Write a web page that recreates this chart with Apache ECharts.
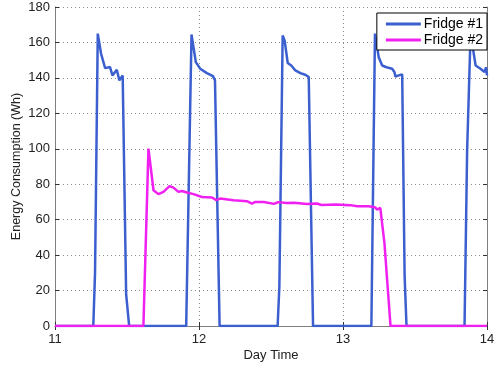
<!DOCTYPE html>
<html>

<head>
    <meta charset="utf-8" />
    <script src="https://cdn.jsdelivr.net/npm/echarts@6/dist/echarts.min.js"></script>
</head>

<body style="margin:0">
    <div id="main" style="width: 498px;height: 375px;"></div>

    <script type="text/javascript">
        // values (day time, Wh)
        var fridge1Time = [11, 11.266, 11.278, 11.297, 11.320, 11.348, 11.382, 11.399, 11.429, 11.447, 11.470, 11.482, 11.494, 11.515,
            11.911, 11.948, 11.978, 12.008, 12.055, 12.097, 12.111, 12.143,
            12.546, 12.558, 12.581, 12.595, 12.616, 12.641, 12.669, 12.704, 12.738, 12.762, 12.792,
            13.197, 13.222, 13.248, 13.272, 13.302, 13.341, 13.357, 13.364, 13.387, 13.411, 13.428, 13.441,
            13.844, 13.862, 13.886, 13.921, 13.955, 13.983, 13.993, 14];
        var fridge1Value = [0, 0, 30, 165, 153.6, 145.5, 146.1, 141.4, 144.6, 138.6, 141.4, 140.8, 18, 0,
            0, 164.5, 148.9, 145.2, 142.7, 141, 138.6, 0,
            0, 22, 163.9, 161, 148.4, 147, 144.2, 142.7, 141.8, 140.5, 0,
            0, 165, 151.7, 147, 146, 145.2, 143.3, 140.8, 141.4, 142, 28, 0,
            0, 99, 165, 147, 145.2, 143.3, 146, 141.4];

        var fridge2Time = [11, 11.614, 11.649, 11.684, 11.718, 11.753, 11.795, 11.823, 11.857, 11.881, 11.916, 11.962, 12.02, 12.09,
            12.12, 12.147, 12.24, 12.333, 12.368, 12.391, 12.45, 12.52, 12.55, 12.61, 12.66, 12.75, 12.82, 12.85,
            12.95, 13.05, 13.10, 13.18, 13.225, 13.235, 13.259, 13.288, 13.33, 14];
        var fridge2Value = [0, 0, 100.1, 76.6, 74.4, 75.7, 78.9, 78.1, 75.7, 76.2, 75.3, 74.4, 72.8, 72.5,
            71, 71.9, 71, 70.4, 69.1, 70, 70, 68.9, 69.9, 69.4, 69.6, 68.9, 69.1, 68.3,
            68.6, 68.2, 67.6, 67.6, 66.9, 65.7, 66.6, 46.6, 0, 0];

        var chartDom = document.getElementById('main');
        var myChart = echarts.init(chartDom);

        function pairs(t, v) {
            var out = [];
            for (var i = 0; i < t.length; i++) out.push([t[i], v[i]]);
            return out;
        }

        var font = 'Liberation Sans, Arial, Helvetica, sans-serif';
        var frame = { show: true, lineStyle: { color: '#7f7f7f', width: 1 } };
        var inTicks = { show: true, inside: true, length: 4, lineStyle: { color: '#333' } };
        var grid = { show: true, lineStyle: { color: '#8a8a8a', type: [1, 3], width: 1 } };

        var option = {
            animation: false,
            backgroundColor: '#fff',
            textStyle: { fontFamily: font },
            grid: { left: 55, right: 11, top: 7, bottom: 49, outerBoundsMode: 'none', containLabel: false },
            legend: {
                right: 11, top: 13,
                orient: 'vertical',
                backgroundColor: '#fff',
                borderColor: '#000', borderWidth: 1,
                padding: [4, 4, 3, 9],
                itemGap: 2,
                itemWidth: 35, itemHeight: 3,
                icon: 'rect',
                textStyle: { fontSize: 14, color: '#000', fontFamily: font, padding: [0, 0, 0, -2] },
                data: ['Fridge #1', 'Fridge #2']
            },
            xAxis: [{
                type: 'value', min: 11, max: 14, interval: 1,
                name: 'Day Time', nameLocation: 'middle', nameGap: 23, nameMoveOverlap: false,
                nameTextStyle: { fontSize: 13, color: '#222' },
                axisLine: frame, axisTick: inTicks, splitLine: grid,
                axisLabel: { fontSize: 13, color: '#222', margin: 7 }
            }, {
                type: 'value', min: 11, max: 14, interval: 1, position: 'top',
                axisLine: frame, axisTick: inTicks, splitLine: { show: false },
                axisLabel: { show: false }
            }],
            yAxis: [{
                type: 'value', min: 0, max: 180, interval: 20,
                name: 'Energy Consumption (Wh)', nameLocation: 'middle', nameGap: 32, nameMoveOverlap: false,
                nameTextStyle: { fontSize: 12.5, color: '#222' },
                axisLine: frame, axisTick: inTicks, splitLine: grid,
                axisLabel: { fontSize: 13, color: '#222', margin: 5 }
            }, {
                type: 'value', min: 0, max: 180, interval: 20, position: 'right',
                axisLine: frame, axisTick: inTicks, splitLine: { show: false },
                axisLabel: { show: false }
            }],
            series: [{
                name: 'Fridge #1', type: 'line', symbol: 'none',
                color: '#3b5fcf',
                lineStyle: { width: 2.5, color: '#3b5fcf' },
                data: pairs(fridge1Time, fridge1Value)
            }, {
                name: 'Fridge #2', type: 'line', symbol: 'none',
                color: '#f020f0',
                lineStyle: { width: 2.5, color: '#f020f0' },
                data: pairs(fridge2Time, fridge2Value)
            }]
        };
        myChart.setOption(option);
    </script>
</body>
</html>
